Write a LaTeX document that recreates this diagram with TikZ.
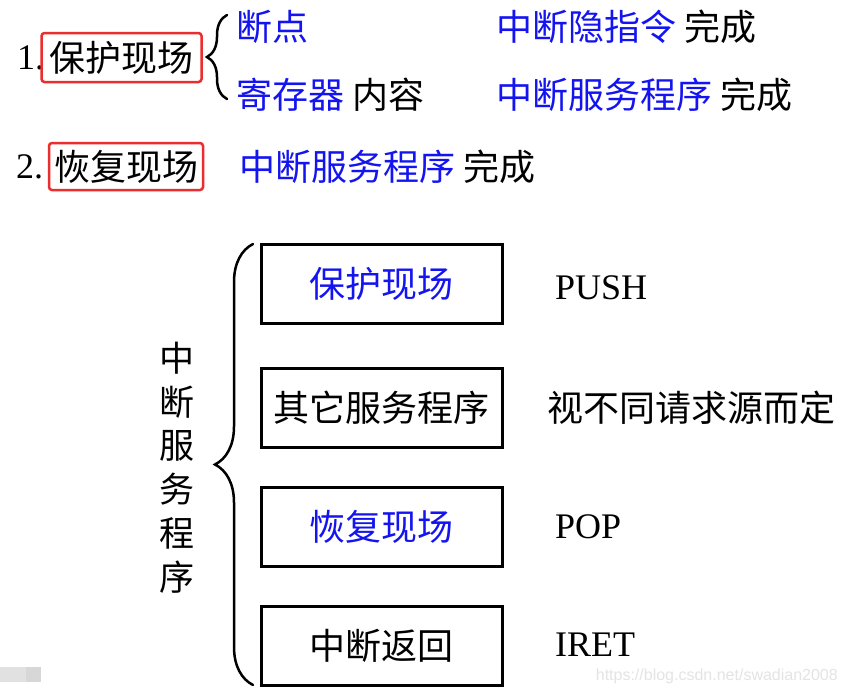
\documentclass[tikz,border=0pt]{standalone}
\usepackage{fontspec}
\setmainfont{Liberation Serif}
\setsansfont{Liberation Sans}
\newfontfamily\cjk{Noto Sans CJK SC}
\usetikzlibrary{decorations.pathreplacing}
\definecolor{tblue}{RGB}{20,20,240}
\definecolor{tred}{RGB}{235,45,45}
\definecolor{wm}{RGB}{228,228,228}
\definecolor{gA}{RGB}{225,225,225}
\definecolor{gB}{RGB}{215,215,215}
\begin{document}
\begin{tikzpicture}[x=1pt,y=-1pt,
  cjkt/.style={font=\cjk\fontsize{36}{40}\selectfont, inner sep=0pt},
  lat/.style={font=\fontsize{36}{40}\selectfont, inner sep=0pt},
  redbox/.style={draw=tred, line width=2.5pt, rounded corners=3pt, inner sep=0pt, cjkt},
  stepbox/.style={draw=black, line width=3pt, minimum width=241pt, minimum height=79pt, inner sep=0pt, cjkt},
  bracestyle/.style={decorate, decoration={brace, amplitude=#1}, line width=2.5pt, line cap=round}
]
\useasboundingbox (0,0) rectangle (848,694);
\fill[white] (0,0) rectangle (848,694);

% line 1
\node[lat, anchor=west] (n1) at (17,58) {1.};
\node[redbox, minimum width=160pt, minimum height=49pt] (p1) at (121.5,57.5) {保护现场};
\coordinate (b1a) at (227,99);
\coordinate (b1b) at (227,15);
\draw[bracestyle=20pt] (b1a) -- (b1b);
\node[cjkt, anchor=west, text=tblue] (d1) at (236,27) {断点};
\node[cjkt, anchor=west] (d2) at (236,95) {{\color{tblue}寄存器} 内容};
\node[cjkt, anchor=west] (d3) at (496,27) {{\color{tblue}中断隐指令} 完成};
\node[cjkt, anchor=west] (d4) at (496,95) {{\color{tblue}中断服务程序} 完成};

% line 2
\node[lat, anchor=west] (n2) at (16,167) {2.};
\node[redbox, minimum width=154pt, minimum height=47pt] (p2) at (126,166.5) {恢复现场};
\node[cjkt, anchor=west] (d5) at (239,167) {{\color{tblue}中断服务程序} 完成};

% bottom boxes
\node[stepbox, text=tblue] (s1) at (381.5,283.5) {保护现场};
\node[stepbox] (s2) at (381.5,407.5) {其它服务程序};
\node[stepbox, text=tblue] (s3) at (381.5,526.5) {恢复现场};
\node[stepbox] (s4) at (381.5,645.5) {中断返回};

\node[lat, anchor=west] (l1) at (555,288) {PUSH};
\node[cjkt, anchor=west] (l2) at (547,408) {视不同请求源而定};
\node[lat, anchor=west] (l3) at (555,527) {POP};
\node[lat, anchor=west] (l4) at (555,645) {IRET};

% big brace
\coordinate (bba) at (253,685);
\coordinate (bbb) at (253,244);
\draw[bracestyle=38pt] (bba) -- (bbb);
\node[cjkt, align=center, font=\cjk\fontsize{35}{43.8}\selectfont] (v) at (177,467.5) {中\\断\\服\\务\\程\\序};

% watermark
\node[font=\sffamily\fontsize{16}{18}\selectfont, text=wm, anchor=east, inner sep=0pt] (w) at (838,676) {https://blog.csdn.net/swadian2008};
\fill[gA] (0,667) rectangle (26,682);
\fill[gB] (26,667) rectangle (41,682);
\end{tikzpicture}
\end{document}
